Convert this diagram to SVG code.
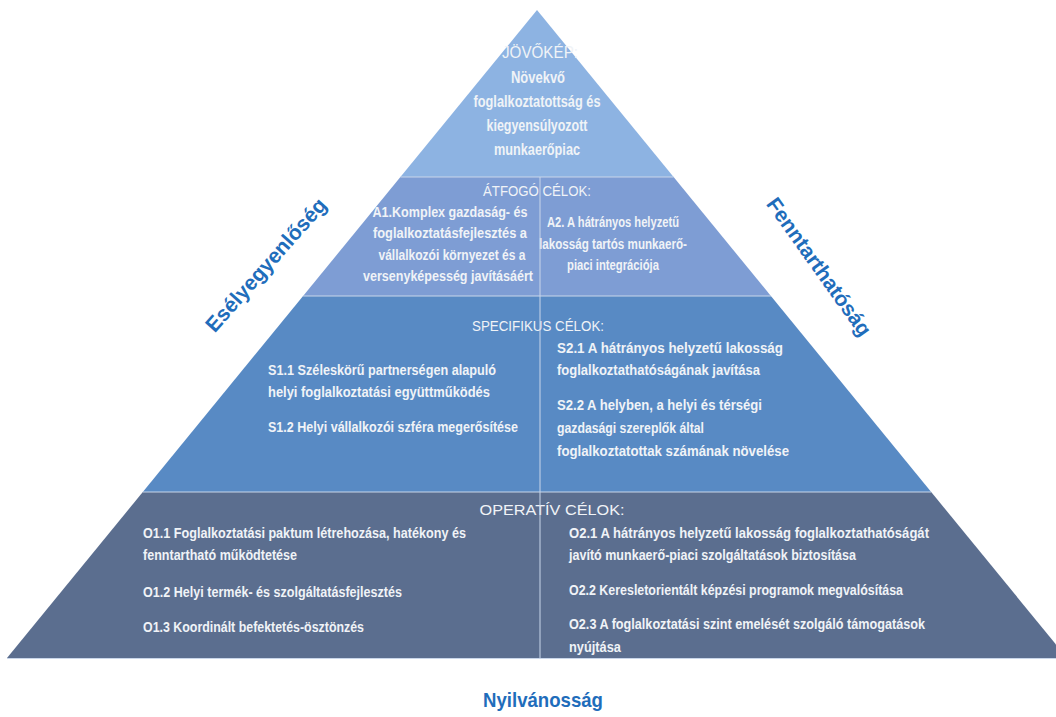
<svg xmlns="http://www.w3.org/2000/svg" width="1056" height="717" viewBox="0 0 1056 717">
<style>
.t{font-family:"Liberation Sans Narrow","Arial Narrow","Liberation Sans",sans-serif;fill:#f0f3f7;font-weight:bold}
.t1{font-size:16px}
.t2{font-size:14.5px}
.t3{font-size:15px}
.h{font-weight:normal}
.c{text-anchor:middle}
.side{font-family:"Liberation Sans",Arial,sans-serif;font-weight:bold;font-size:21px;fill:#1f6dbb;text-anchor:middle}
.sep{stroke:#c9d6ea;stroke-width:1;fill:none}
</style>
<rect width="1056" height="717" fill="#ffffff"/>
<g id="tier1">
<polygon points="537,10 673.6,177 400.4,177" fill="#8db3e2"/>
<text class="t t1 c h" x="540" y="58" textLength="76" lengthAdjust="spacingAndGlyphs">JÖVŐKÉP:</text>
<text class="t t1 c" x="538" y="83" textLength="54" lengthAdjust="spacingAndGlyphs">Növekvő</text>
<text class="t t1 c" x="537" y="107" textLength="127" lengthAdjust="spacingAndGlyphs">foglalkoztatottság és</text>
<text class="t t1 c" x="537" y="131" textLength="101" lengthAdjust="spacingAndGlyphs">kiegyensúlyozott</text>
<text class="t t1 c" x="537" y="155" textLength="86" lengthAdjust="spacingAndGlyphs">munkaerőpiac</text>
</g>
<g id="tier2">
<polygon points="400.4,177 673.6,177 770.9,296 303.1,296" fill="#7e9dd4"/>
<text class="t t2 c h" x="537" y="196" textLength="108" lengthAdjust="spacingAndGlyphs">ÁTFOGÓ CÉLOK:</text>
<text class="t t2 c" x="450" y="217" textLength="155" lengthAdjust="spacingAndGlyphs">A1.Komplex gazdaság- és</text>
<text class="t t2 c" x="450" y="238" textLength="154" lengthAdjust="spacingAndGlyphs">foglalkoztatásfejlesztés a</text>
<text class="t t2 c" x="452" y="260" textLength="147" lengthAdjust="spacingAndGlyphs">vállalkozói környezet és a</text>
<text class="t t2 c" x="448" y="281" textLength="170" lengthAdjust="spacingAndGlyphs">versenyképesség javításáért</text>
<text class="t t2 c" x="613" y="227" textLength="132" lengthAdjust="spacingAndGlyphs">A2. A hátrányos helyzetű</text>
<text class="t t2 c" x="613" y="249" textLength="148" lengthAdjust="spacingAndGlyphs">lakosság tartós munkaerő-</text>
<text class="t t2 c" x="613" y="270" textLength="92" lengthAdjust="spacingAndGlyphs">piaci integrációja</text>
</g>
<g id="tier3">
<polygon points="303.1,296 770.9,296 931.2,492 142.8,492" fill="#588ac4"/>
<text class="t t3 c h" x="538" y="331" textLength="132" lengthAdjust="spacingAndGlyphs">SPECIFIKUS CÉLOK:</text>
<text class="t t3" x="268" y="375" textLength="228" lengthAdjust="spacingAndGlyphs">S1.1 Széleskörű partnerségen alapuló</text>
<text class="t t3" x="268" y="397" textLength="222" lengthAdjust="spacingAndGlyphs">helyi foglalkoztatási együttműködés</text>
<text class="t t3" x="268" y="432" textLength="250" lengthAdjust="spacingAndGlyphs">S1.2 Helyi vállalkozói szféra megerősítése</text>
<text class="t t3" x="557" y="353" textLength="226" lengthAdjust="spacingAndGlyphs">S2.1 A hátrányos helyzetű lakosság</text>
<text class="t t3" x="557" y="375" textLength="203" lengthAdjust="spacingAndGlyphs">foglalkoztathatóságának javítása</text>
<text class="t t3" x="557" y="410" textLength="205" lengthAdjust="spacingAndGlyphs">S2.2 A helyben, a helyi és térségi</text>
<text class="t t3" x="557" y="433" textLength="147" lengthAdjust="spacingAndGlyphs">gazdasági szereplők által</text>
<text class="t t3" x="557" y="456" textLength="232" lengthAdjust="spacingAndGlyphs">foglalkoztatottak számának növelése</text>
</g>
<g id="tier4">
<polygon points="142.8,492 931.2,492 1067,658 7,658" fill="#5b6e8f"/>
<text class="t t3 c h" x="552" y="515" style="font-size:15.5px" textLength="145" lengthAdjust="spacingAndGlyphs">OPERATÍV CÉLOK:</text>
<text class="t t3" x="143" y="538" textLength="323" lengthAdjust="spacingAndGlyphs">O1.1 Foglalkoztatási paktum létrehozása, hatékony és</text>
<text class="t t3" x="143" y="560" textLength="154" lengthAdjust="spacingAndGlyphs">fenntartható működtetése</text>
<text class="t t3" x="143" y="597" textLength="259" lengthAdjust="spacingAndGlyphs">O1.2 Helyi termék- és szolgáltatásfejlesztés</text>
<text class="t t3" x="143" y="632" textLength="221" lengthAdjust="spacingAndGlyphs">O1.3 Koordinált befektetés-ösztönzés</text>
<text class="t t3" x="569" y="538" textLength="360" lengthAdjust="spacingAndGlyphs">O2.1 A hátrányos helyzetű lakosság foglalkoztathatóságát</text>
<text class="t t3" x="569" y="560" textLength="287" lengthAdjust="spacingAndGlyphs">javító munkaerő-piaci szolgáltatások biztosítása</text>
<text class="t t3" x="569" y="595" textLength="334" lengthAdjust="spacingAndGlyphs">O2.2 Keresletorientált képzési programok megvalósítása</text>
<text class="t t3" x="569" y="629" textLength="356" lengthAdjust="spacingAndGlyphs">O2.3 A foglalkoztatási szint emelését szolgáló támogatások</text>
<text class="t t3" x="569" y="652" textLength="52" lengthAdjust="spacingAndGlyphs">nyújtása</text>
</g>
<g id="connectors">
<line class="sep" x1="400.4" y1="177" x2="673.6" y2="177"/>
<line class="sep" x1="303.1" y1="296" x2="770.9" y2="296"/>
<line class="sep" x1="142.8" y1="492" x2="931.2" y2="492"/>
<line class="sep" x1="7" y1="658.5" x2="1056" y2="658.5" stroke="#a8b4c8"/>
<line class="sep" x1="540" y1="177" x2="540" y2="658"/>
</g>
<g id="labels">
<text class="side" transform="translate(266,265) rotate(-48.5)" y="7">Esélyegyenlőség</text>
<text class="side" transform="translate(819,267) rotate(54.5)" y="7">Fenntarthatóság</text>
<text class="side" x="543" y="707" textLength="120" lengthAdjust="spacingAndGlyphs">Nyilvánosság</text>
</g>
</svg>
